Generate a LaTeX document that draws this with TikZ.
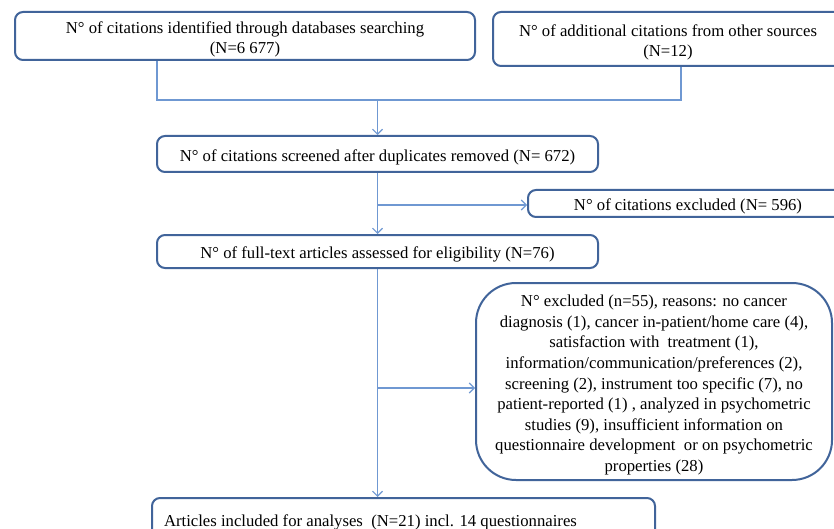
\documentclass[tikz,border=0pt]{standalone}
\usepackage{fontspec}
\setmainfont{Liberation Serif}
\usetikzlibrary{arrows.meta}
\definecolor{boxc}{HTML}{41649A}
\definecolor{linec}{HTML}{6F98D2}
\newcommand{\lowtext}[1]{\raisebox{-3.5pt}[\height][\depth]{\begin{tabular}{@{}c@{}}#1\end{tabular}}}
\tikzset{
  box/.style={draw=boxc, line width=2pt, rounded corners=8pt, inner sep=2pt, font=\fontsize{16.7}{19.5}\selectfont},
  conn/.style={draw=linec, line width=1.1pt},
  arr/.style={conn, -{Straight Barb[length=5pt,width=10pt]}}
}
\begin{document}
\begin{tikzpicture}[x=1pt,y=-1pt]
\clip (0,0) rectangle (834,529);
\fill[white] (0,0) rectangle (834,529);
\node[box, minimum width=460, minimum height=48] (A) at (245,36) {\lowtext{N° of citations identified through databases searching\\(N=6 677)}};
\node[box, minimum width=350, minimum height=54] (B) at (668,39) {\lowtext{N° of additional citations from other sources\\(N=12)}};
\node[box, minimum width=441, minimum height=36] (C) at (377.5,154) {\lowtext{N° of citations screened after duplicates removed (N= 672)}};
\node[box, minimum width=320, minimum height=27] (E) at (688,203.5) {\lowtext{N° of citations excluded (N= 596)}};
\node[box, minimum width=441, minimum height=33] (D) at (377.5,251.5) {\lowtext{N° of full-text articles assessed for eligibility (N=76)}};
\node[box, rounded corners=40pt, minimum width=356, minimum height=197, font=\fontsize{16.7}{20.6}\selectfont] (F) at (654,381.5) {\lowtext{N° excluded (n=55), reasons: no cancer\\diagnosis (1), cancer in-patient/home care (4),\\satisfaction with~~treatment (1),\\information/communication/preferences (2),\\screening (2), instrument too specific (7), no\\patient-reported (1) , analyzed in psychometric\\studies (9), insufficient information on\\questionnaire development~~or on psychometric\\properties (28)}};
\node[box, minimum width=503, minimum height=42, text width=479, inner xsep=12pt, align=flush left] (G) at (403.5,519) {\raisebox{-3.5pt}[\height][\depth]{Articles included for analyses~~(N=21) incl. 14 questionnaires}};
\coordinate (j1) at (157,100);
\coordinate (j2) at (681,100);
\coordinate (jm) at (377.5,100);
\coordinate (b1) at (377.5,205);
\coordinate (b2) at (377.5,388);
\draw[conn] (A.south -| j1) -- (j1) -- (j2) -- (B.south -| j2);
\draw[arr] (jm) -- (C.north);
\draw[arr] (C.south) -- (D.north);
\draw[arr] (b1) -- (b1 -| E.west);
\draw[arr] (D.south) -- (G.north -| D.south);
\draw[arr] (b2) -- (b2 -| F.west);
\end{tikzpicture}
\end{document}
